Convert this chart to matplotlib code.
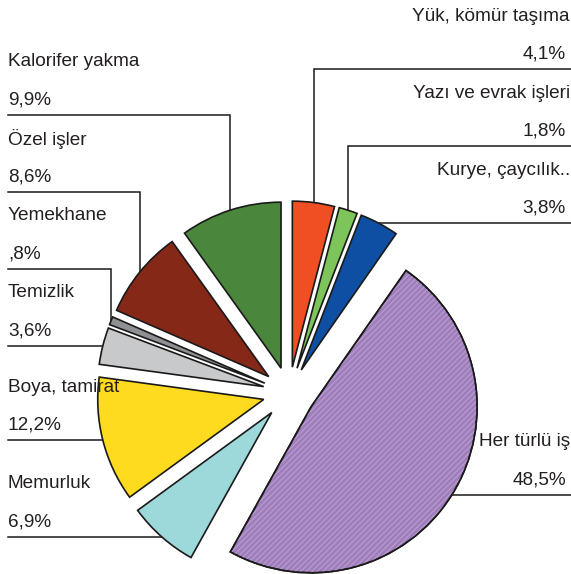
import numpy as np
import matplotlib.pyplot as plt
from matplotlib.patches import Wedge

plt.rcParams['font.family'] = ['Liberation Sans', 'DejaVu Sans']

# dilim verileri (saat yönünde, tepeden başlayarak)
labels = ['Yük, kömür taşıma', 'Yazı ve evrak işleri', 'Kurye, çaycılık..',
          'Her türlü iş', 'Memurluk', 'Boya, tamirat', 'Temizlik',
          'Yemekhane', 'Özel işler', 'Kalorifer yakma']
values = [4.1, 1.8, 3.8, 48.5, 6.9, 12.2, 3.6, 0.8, 8.6, 9.9]
value_text = ['4,1%', '1,8%', '3,8%', '48,5%', '6,9%', '12,2%', '3,6%',
              ',8%', '8,6%', '9,9%']
colors = ['#f04e23', '#7dc55a', '#0f4fa3', '#a07cbc', '#9dd8da', '#fedb1e',
          '#c8c9cb', '#8f9094', '#852818', '#4a863b']

# yerleşim (piksel)
W, H = 571, 574
R = 166.0
cx, cy = 289, 393
s = 1 / R  # piksel -> veri birimi
expl = 0.157

fig = plt.figure(figsize=(W / 100, H / 100), dpi=100)
ax = fig.add_axes([0, 0, 1, 1])

wedges, _ = ax.pie(values, colors=colors, startangle=90, counterclock=False,
                   explode=[expl] * len(values), radius=1,
                   wedgeprops=dict(edgecolor='#1a1a1a', linewidth=1.2))

# mor dilimde ince çizgi dokusu
pw = wedges[3]
ax.add_patch(Wedge(pw.center, pw.r, pw.theta1, pw.theta2, facecolor='none',
                   edgecolor='#b39acb', hatch='//////', linewidth=0, zorder=pw.get_zorder() + 0.1))
ax.add_patch(Wedge(pw.center, pw.r, pw.theta1, pw.theta2, facecolor='none',
                   edgecolor='#1a1a1a', linewidth=1.2, zorder=pw.get_zorder() + 0.2))

x_left = (0 - cx) * s
x_right = (W - cx) * s
y_top = cy * s
ax.set_xlim(x_left, x_right)
ax.set_ylim(-(H - cy) * s, y_top)
ax.set_aspect('auto')
ax.axis('off')

# etiket çizgileri: dilim ortasındaki yay noktasından
gap = 77 * s
anchors = []
for w in wedges:
    th = np.deg2rad((w.theta1 + w.theta2) / 2)
    x0 = w.center[0] + w.r * np.cos(th)
    y0 = w.center[1] + w.r * np.sin(th)
    anchors.append((x0, y0))

right_idx = [i for i in range(len(wedges)) if anchors[i][0] > 0]
left_idx = [i for i in range(len(wedges)) if anchors[i][0] <= 0]

line_y = {}
for group in (right_idx, left_idx):
    order = sorted(group, key=lambda i: anchors[i][1])  # alttan üste
    prev = None
    for i in order:
        y = anchors[i][1]
        if prev is not None:
            y = max(y, prev + gap)
        line_y[i] = y
        prev = y

txt_kw = dict(fontsize=13.7, color='#231f20')
for i in range(len(wedges)):
    x0, y0 = anchors[i]
    yl = line_y[i]
    if i in right_idx:
        xe = x_right
        tx, ha = x_right - 5 * s, 'right'
    else:
        xe = x_left + 8 * s
        tx, ha = xe, 'left'
    ax.plot([x0, x0, xe], [y0, yl, yl], color='#1a1a1a', lw=1.1,
            solid_joinstyle='miter', zorder=0.5, clip_on=False)
    lx = tx
    lha = ha
    if labels[i] == 'Her türlü iş':
        lx, lha = x0 + 27 * s, 'left'
    elif i in right_idx:
        lx = x_right - 1 * s
    ax.text(lx, yl + 53 * s, labels[i], ha=lha, va='center', **txt_kw)
    ax.text(tx, yl + 15 * s, value_text[i], ha=ha, va='center', **txt_kw)

fig.savefig('out.png', dpi=100)
